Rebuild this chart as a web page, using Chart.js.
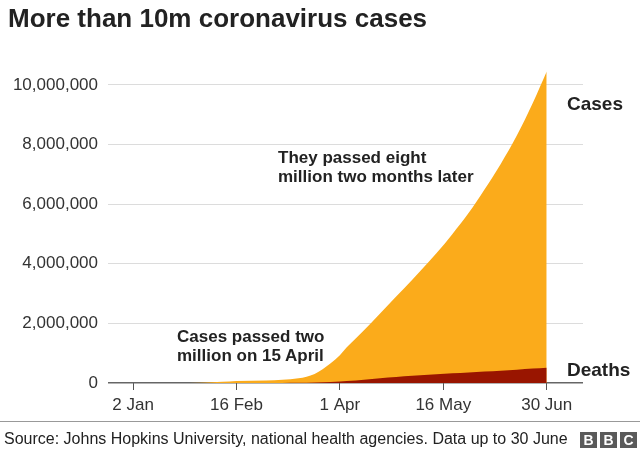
<!DOCTYPE html>
<html>
<head>
<meta charset="utf-8">
<script src="https://cdn.jsdelivr.net/npm/chart.js@4/dist/chart.umd.min.js"></script>
<style>
  body { margin: 0; background: #fff; font-family: "Liberation Sans", Arial, Helvetica, sans-serif; }
  #wrap { position: relative; width: 640px; height: 450px; overflow: hidden; }
  #chart { position: absolute; left: 0; top: 0; }
  .txt { position: absolute; color: #222; white-space: nowrap; }
  #title { left: 8px; top: 3px; font-size: 26px; font-weight: bold; }
  .note { font-size: 17px; font-weight: bold; line-height: 19px; }
  .lbl { font-size: 19px; font-weight: bold; }
  #rule { position: absolute; left: 0; top: 421px; width: 640px; height: 1px; background: #999; }
  #source { left: 4px; top: 430px; font-size: 16px; color: #222; }
  .bbc { position: absolute; top: 432px; width: 17px; height: 16px; background: #5a5a5a; color: #fff;
         font-size: 14px; font-weight: bold; text-align: center; line-height: 16px; }
</style>
</head>
<body>
<div id="wrap">
  <canvas id="chart" width="640" height="450"></canvas>
  <div id="title" class="txt">More than 10m coronavirus cases</div>
  <div class="txt note" style="left:278px; top:148px;">They passed eight<br>million two months later</div>
  <div class="txt note" style="left:177px; top:327px;">Cases passed two<br>million on 15 April</div>
  <div class="txt lbl" style="left:567px; top:93px;">Cases</div>
  <div class="txt lbl" style="left:567px; top:359px;">Deaths</div>
  <div id="rule"></div>
  <div id="source" class="txt">Source: Johns Hopkins University, national health agencies. Data up to 30 June</div>
  <div class="bbc" style="left:580px;">B</div>
  <div class="bbc" style="left:600px;">B</div>
  <div class="bbc" style="left:620px;">C</div>
</div>
<script>
var startDate = '2020-01-02';

var dates = ['2020-01-22','2020-01-31','2020-02-10','2020-02-16','2020-02-29','2020-03-07',
             '2020-03-14','2020-03-21','2020-03-28','2020-04-01','2020-04-04','2020-04-08',
             '2020-04-15','2020-04-22','2020-04-29','2020-05-06','2020-05-13','2020-05-20',
             '2020-05-27','2020-06-03','2020-06-10','2020-06-17','2020-06-24','2020-06-30'];

var cases = [555, 9800, 43000, 71000, 86000, 106000,
             157000, 305000, 660000, 932000, 1200000, 1500000,
             2050000, 2620000, 3180000, 3760000, 4350000, 5000000,
             5700000, 6500000, 7350000, 8300000, 9400000, 10450000];

var deaths = [17, 213, 1000, 1770, 3000, 3500,
              5800, 13000, 31000, 47000, 64000, 88000,
              134000, 184000, 228000, 264000, 297000, 328000,
              356000, 387000, 415000, 446000, 483000, 511000];

var xTickDays = [0, 45, 90, 135, 180];
var xTickLabels = ['2 Jan', '16 Feb', '1 Apr', '16 May', '30 Jun'];
var yTicks = [0, 2000000, 4000000, 6000000, 8000000, 10000000];

function dayNum(s) {
    return (Date.parse(s) - Date.parse(startDate)) / 86400000;
}

var casePoints = dates.map(function (d, i) { return {x: dayNum(d), y: cases[i]}; });
var deathPoints = dates.map(function (d, i) { return {x: dayNum(d), y: deaths[i]}; });

var ctx = document.getElementById('chart').getContext('2d');
var chart = new Chart(ctx, {
    type: 'line',
    data: {
        datasets: [
            {
                label: 'Deaths',
                data: deathPoints,
                fill: 'origin',
                backgroundColor: '#991500',
                borderWidth: 0,
                pointRadius: 0,
                cubicInterpolationMode: 'monotone',
                order: 0
            },
            {
                label: 'Cases',
                data: casePoints,
                fill: 'origin',
                backgroundColor: '#fbab1b',
                borderWidth: 0,
                pointRadius: 0,
                cubicInterpolationMode: 'monotone',
                order: 1
            }
        ]
    },
    options: {
        responsive: false,
        animation: false,
        layout: { padding: { left: 0, right: 57, top: 70, bottom: 0 } },
        plugins: { legend: { display: false }, tooltip: { enabled: false } },
        scales: {
            x: {
                type: 'linear',
                min: -10.9,
                max: 195.8,
                afterBuildTicks: function (scale) {
                    scale.ticks = xTickDays.map(function (v) { return {value: v}; });
                },
                afterFit: function (scale) { scale.height = 67; },
                ticks: {
                    autoSkip: false,
                    maxRotation: 0,
                    padding: 5,
                    color: '#333',
                    font: { family: '"Liberation Sans", Arial, sans-serif', size: 17 },
                    callback: function (v) { return xTickLabels[xTickDays.indexOf(v)]; }
                },
                grid: { drawOnChartArea: false, drawTicks: true, tickLength: 7, color: '#555' },
                border: { display: false }
            },
            y: {
                min: 0,
                max: 10500000,
                afterBuildTicks: function (scale) {
                    scale.ticks = yTicks.map(function (v) { return {value: v}; });
                },
                afterFit: function (scale) { scale.width = 108; },
                ticks: {
                    padding: 10,
                    color: '#333',
                    font: { family: '"Liberation Sans", Arial, sans-serif', size: 17 },
                    callback: function (v) { return v.toLocaleString('en-GB'); }
                },
                grid: {
                    drawTicks: false,
                    color: function (c) { return c.tick && c.tick.value === 0 ? '#666' : '#dcdcdc'; },
                    lineWidth: function (c) { return c.tick && c.tick.value === 0 ? 1.5 : 1; }
                },
                border: { display: false }
            }
        }
    }
});
</script>
</body>
</html>
